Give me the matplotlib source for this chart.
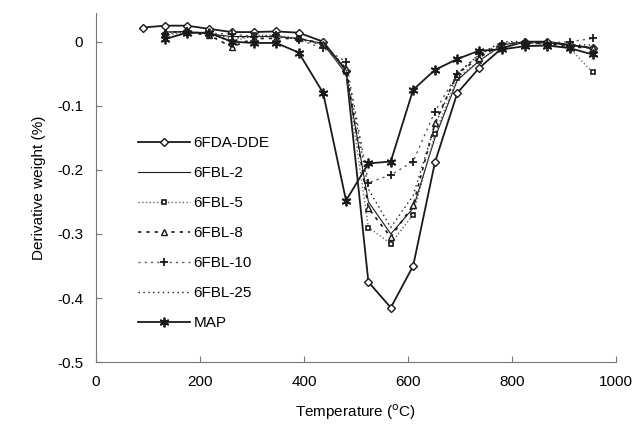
import matplotlib
matplotlib.use("Agg")
import matplotlib.pyplot as plt

plt.rcParams['font.family'] = ['Liberation Sans', 'DejaVu Sans']

# temperatures of the marker points (C)
temp = [133, 175, 218, 261, 304, 347, 390, 437, 481, 524,
        567, 610, 652, 695, 737, 781, 825, 868, 911, 955]
temp_dde = [90] + temp

dde = [0.022, 0.025, 0.025, 0.020, 0.015, 0.015, 0.016, 0.014, 0.000, -0.045, -0.375,
       -0.415, -0.350, -0.188, -0.080, -0.041, -0.010, 0.000, 0.000, -0.005, -0.010]
fbl2 = [0.015, 0.016, 0.012, 0.008, 0.008, 0.008, 0.005, -0.003, -0.050, -0.250,
        -0.300, -0.260, -0.150, -0.060, -0.030, -0.005, 0.000, -0.002, -0.005, -0.010]
fbl5 = [0.010, 0.015, 0.012, 0.000, 0.010, 0.010, 0.005, -0.005, -0.048, -0.290,
        -0.315, -0.270, -0.144, -0.056, -0.030, -0.005, -0.002, -0.005, -0.010, -0.048]
fbl8 = [0.015, 0.015, 0.010, -0.008, 0.005, 0.005, 0.005, -0.003, -0.042, -0.260,
        -0.305, -0.255, -0.127, -0.050, -0.025, -0.003, -0.002, -0.003, -0.008, -0.010]
fbl10 = [0.012, 0.016, 0.013, 0.012, 0.008, 0.010, 0.003, -0.010, -0.031, -0.220,
         -0.208, -0.187, -0.109, -0.050, -0.020, -0.003, -0.001, -0.002, 0.000, 0.005]
fbl25 = [0.015, 0.015, 0.012, 0.005, 0.008, 0.008, 0.004, -0.005, -0.040, -0.230,
         -0.290, -0.240, -0.130, -0.050, -0.020, 0.000, 0.000, -0.003, -0.005, -0.005]
mapp = [0.004, 0.014, 0.014, 0.000, -0.002, -0.002, -0.017, -0.080, -0.248, -0.190,
        -0.187, -0.075, -0.044, -0.027, -0.014, -0.012, -0.007, -0.006, -0.010, -0.020]

fig = plt.figure(figsize=(6.39, 4.28), dpi=100)
ax = fig.add_axes([0.150, 0.154, 0.814, 0.816])

k = '#1a1a1a'
ax.plot(temp_dde, dde, '-', color=k, lw=1.3, marker='D', ms=4.5, mfc='white', mec=k, mew=1.0, label='6FDA-DDE')
ax.plot(temp, fbl2, '-', color=k, lw=0.8, label='6FBL-2')
ax.plot(temp, fbl5, ':', color='#666666', lw=1.0, marker='s', ms=3.5, mfc='white', mec=k, mew=1.2, label='6FBL-5')
ax.plot(temp, fbl8, linestyle=(0, (2, 3)), color=k, lw=1.2, marker='^', ms=4, mfc='white', mec=k, mew=1.0, label='6FBL-8')
ax.plot(temp, fbl10, linestyle=(0, (1.5, 3)), color='#555555', lw=1.0, marker='+', ms=6, mec=k, mew=1.3, label='6FBL-10')
ax.plot(temp, fbl25, linestyle=(0, (1, 2.5)), color=k, lw=1.0, label='6FBL-25')
ax.plot(temp, mapp, '-', color=k, lw=1.3, marker=(6, 2, 0), ms=7, mec=k, mew=1.3, label='MAP')

ax.set_xlim(0, 1000)
ax.set_ylim(-0.5, 0.045)
ax.set_xticks([0, 200, 400, 600, 800, 1000])
ax.set_yticks([0, -0.1, -0.2, -0.3, -0.4, -0.5])
ax.set_yticklabels(['0', '-0.1', '-0.2', '-0.3', '-0.4', '-0.5'])
ax.tick_params(direction='in', length=4, color='#777777', labelsize=11, pad=9)
for s in ['top', 'right']:
    ax.spines[s].set_visible(False)
for s in ['left', 'bottom']:
    ax.spines[s].set_color('#777777')
ax.set_xlabel(r'Temperature ($^{\rm o}$C)', fontsize=11, labelpad=10)
ax.set_ylabel('Derivative weight (%)', fontsize=11, labelpad=8)

ax.legend(loc='upper left', bbox_to_anchor=(0.07, 0.665), frameon=False, fontsize=11,
          handlelength=3.4, handletextpad=0.2, labelspacing=1.05, borderaxespad=0)

fig.savefig('out.png', dpi=100)
